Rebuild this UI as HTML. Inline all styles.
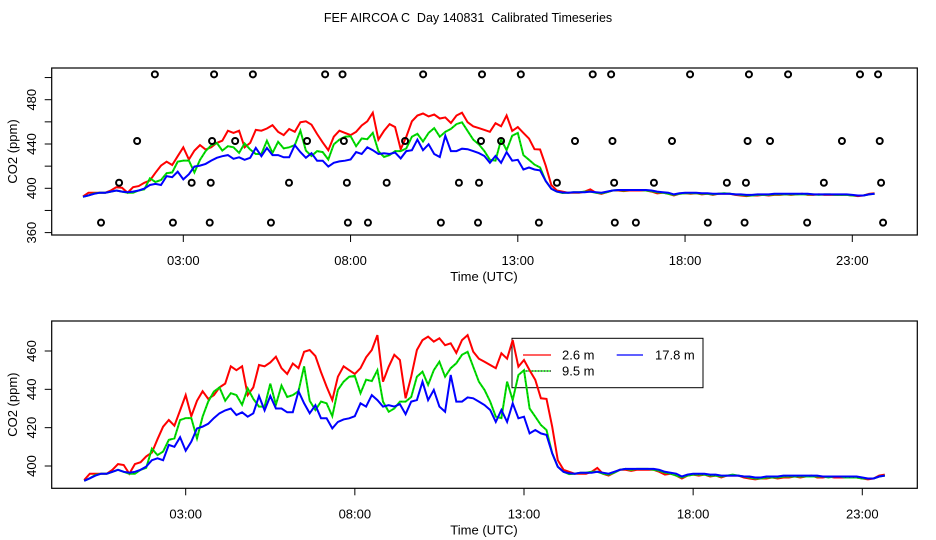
<!DOCTYPE html>
<html><head><meta charset="utf-8"><style>
html,body{margin:0;padding:0;background:#fff;}
svg{display:block;font-family:"Liberation Sans",sans-serif;}
</style></head><body>
<svg id="chart" width="936" height="540" viewBox="0 0 936 540" xmlns="http://www.w3.org/2000/svg">
<text x="468" y="22" font-size="12.5" text-anchor="middle" xml:space="preserve">FEF AIRCOA C  Day 140831  Calibrated Timeseries</text>
</svg>
<script>
// ---- data (hours at 10-minute steps, values in ppm) ----
const stepHours = 1/6;
const red = [392.7,396,396,396,396,398,401,400.5,396,401,402,405,407,414,420.5,424,421,429,437,426,434,439,435,437,441,443,452,450,452,437,441,452.7,452,454,457,451,448,453.5,451,459.6,460.5,
457.4,449,441.4,434.4,446.6,452,450,448,451,456.7,460.5,468.3,444,451.8,458,455.3,435.3,446.6,460.5,465.7,467.5,464.9,466.6,463,464,459,465.7,468.3,459.7,456,454.4,452.7,451,458.8,456,465.7,451.8,455.3,450,444.9,435.3,435,420.5,403,398,397,
396,396,396,397,399,396,395,396.5,398,398,397.5,398,398,398,398,397,395.5,396,395,393.5,395,395.5,395,395.5,394.5,395,394,395,395,395,394,393.5,393,393.5,393.5,394,393.5,394,394,394.5,394,394.5,395,394,394,394.5,394,394,394,394,394,393.5,393,393.5,395,395.5];
const green = [392.3,393.6,395.3,396,396,397,398,397,396,396,398,399,409,405.7,407.5,413.6,414.4,424,425,425,414.4,425.7,433.6,438.8,441,434,438,437,432,440.5,435,431,431,443,432,442,436,437,439,452,434,
429.2,433.6,432.7,426,439.7,444,446.6,447,438,445,444.3,450,433.6,428.3,430,433.6,433.6,436,446.6,449.2,442.3,450,454.4,446.6,451,453.6,458,459.6,451.8,444,439.7,433.6,425.7,425,444,434.4,447.5,450,430,425.7,421.4,418.8,406.6,399.6,397,395.8,
396,396.5,396.5,397,397,396,395.5,396.5,398,398.5,398,398.5,398.5,398.5,398,397.5,396.5,396,395,394,395,395.5,395.5,395.5,395,395,394.5,395,395.5,395,394.5,394,393.5,393.5,394,394,394,394.5,394.5,394.5,394.5,394.5,394.5,394.5,394.5,394,394.5,394.5,394,394,394,393.5,393.5,393.5,394.5,395];
const blue = [392.3,393.6,395,396,396,397,398,397,396.5,397,398,399.7,403,404,403,411,410,415,408,412.7,419.6,420.5,422,425,427.5,429,430,426.6,428,425.7,427.5,436.5,429,436.5,430,430,428,428,439,432.7,427.5,
431.7,424.9,424.9,419.6,423,424.3,424.9,426,432.7,431,437,434.4,431,431.7,431,432.3,427,433.6,434.4,444,434.4,439.7,431,428.3,447.5,433.6,433.6,435.8,435.3,433.6,431.8,429.2,423,429.2,423,432.7,424.9,425.7,417,418.8,417,416.2,406.6,399.6,397,396.2,
396,396.5,396.5,396.5,397,396.5,396,397,398,398.5,398.5,398.5,398.5,398.5,398.5,398,397,396.5,396,394.5,395.5,396,396,396,395.5,395.5,395,395,395,395,394.5,394.5,394,394,394.5,394.5,394.5,395,395,395,395,395,395,395,394.5,394.5,394.5,394.5,394.5,394.5,394.5,394,393.5,393.5,394.5,395];
const flaskHoursA = [2.15,3.92,5.08,7.24,7.76,10.17,11.93,13.09,15.24,15.79,18.15,19.91,21.08,23.23,23.77];
const flaskHoursB = [1.62,3.86,4.55,6.70,7.80,9.63,11.90,12.50,14.71,15.83,17.61,19.87,20.54,22.69,23.82];
const flaskHoursC = [1.08,3.25,3.82,6.16,7.89,9.08,11.24,11.84,14.17,15.88,17.07,19.25,19.82,22.15,23.86];
const flaskHoursD = [0.54,2.69,3.79,5.62,7.92,8.52,10.70,11.81,13.63,15.90,16.53,18.68,19.78,21.65,23.92];
const flaskLevels = [502.9,442.7,405,369];
const xTickHours = [3,8,13,18,23];
const xTickLabels = ["03:00","08:00","13:00","18:00","23:00"];
const topYTicks = [360,380,400,420,440,460,480,500];
const topYLabels = [360,400,440,480];
const botYTicks = [400,420,440,460];

const NS="http://www.w3.org/2000/svg";
const svg=document.getElementById('chart');
function mk(tag,attrs,parent){const e=document.createElementNS(NS,tag);for(const k in attrs)e.setAttribute(k,attrs[k]);(parent||svg).appendChild(e);return e;}

const panels=[
 {name:'top',left:51.7,right:917.3,top:68,bottom:235,x:h=>82.95+33.45*h,y:v=>188.3-(v-400)*1.1075,yt:topYTicks,yl:topYLabels},
 {name:'bottom',left:51.7,right:917.3,top:321,bottom:488.3,x:h=>84.2+33.83*h,y:v=>466-(v-400)*1.9167,yt:botYTicks,yl:botYTicks}
];

panels.forEach(p=>{
  const g=mk('g',{});
  
  
  const box=mk('rect',{x:p.left,y:p.top,width:p.right-p.left,height:p.bottom-p.top,fill:'none',stroke:'#000','stroke-width':1.2},g);
  
  
  xTickHours.forEach((h,i)=>{
    const xx=p.x(h);
    const t=mk('line',{x1:xx,x2:xx,y1:p.bottom,y2:p.bottom+7,stroke:'#000','stroke-width':1},g);
    
    
    const l=mk('text',{x:xx,y:p.bottom+30,'font-size':13,'text-anchor':'middle'},g);
    l.textContent=xTickLabels[i];
    
    
  });
  const xt=mk('text',{x:484,y:p.bottom+46,'font-size':13,'text-anchor':'middle'},g);
  xt.textContent='Time (UTC)';
  
  
  p.yt.forEach(v=>{
    const yy=p.y(v);
    const t=mk('line',{x1:p.left,x2:p.left-7,y1:yy,y2:yy,stroke:'#000','stroke-width':1},g);
    
    
  });
  p.yl.forEach(v=>{
    const yy=p.y(v);
    const l=mk('text',{x:0,y:0,'font-size':13,'text-anchor':'middle',transform:`translate(36,${yy}) rotate(-90)`},g);
    l.textContent=String(v);
    
    
  });
  const yt=mk('text',{x:0,y:0,'font-size':13,'text-anchor':'middle',transform:`translate(17,${(p.top+p.bottom)/2}) rotate(-90)`},g);
  yt.textContent='CO2 (ppm)';
  
  
  if(p.name==='bottom'){
    const lg=mk('g',{},g);
    
    
    const lr=mk('rect',{x:512,y:338.3,width:191,height:49.4,fill:'none',stroke:'#000','stroke-width':1},lg);
    
    
    const entries=[['2.6 m','#ff0000',523,551,355,562],['17.8 m','#0000ff',616.7,643,355,655],['9.5 m','#00e000',523,551,371,562]];
    entries.forEach(e=>{
      const ln=mk('line',{x1:e[2],x2:e[3],y1:e[4],y2:e[4],stroke:e[1],'stroke-width':1.2},lg);
      
      
      if(e[0]==='9.5 m'){
        const dl=mk('line',{x1:e[2],x2:e[3],y1:e[4],y2:e[4],stroke:'#000','stroke-width':1,'stroke-dasharray':'1 2'},lg);
        
        
      }
      const tx=mk('text',{x:e[5],y:e[4]+4.5,'font-size':13},lg);
      tx.textContent=e[0];
      
      
    });
  }
  const series=[['red-2.6m',red,'#ff0000'],['green-9.5m',green,'#00e000'],['blue-17.8m',blue,'#0000ff']];
  series.forEach(s=>{
    const pts=s[1].map((v,i)=>p.x(i*stepHours).toFixed(1)+','+p.y(v).toFixed(1)).join(' ');
    const pl=mk('polyline',{points:pts,fill:'none',stroke:s[2],'stroke-width':2,'stroke-linejoin':'miter'},g);
    
    
    if(s[0].startsWith('green')){
      const d=mk('polyline',{points:pts,fill:'none',stroke:'#000','stroke-width':0.6,'stroke-dasharray':'1 3',opacity:0.6},g);
      
      
    }
  });
  if(p.name==='top'){
    [flaskHoursA,flaskHoursB,flaskHoursC,flaskHoursD].forEach((arr,k)=>{
      arr.forEach(h=>{
        const c=mk('circle',{cx:p.x(h),cy:p.y(flaskLevels[k]),r:3,fill:'none',stroke:'#000','stroke-width':2},g);
        
        
      });
    });
  }
});
</script>
</body></html>
